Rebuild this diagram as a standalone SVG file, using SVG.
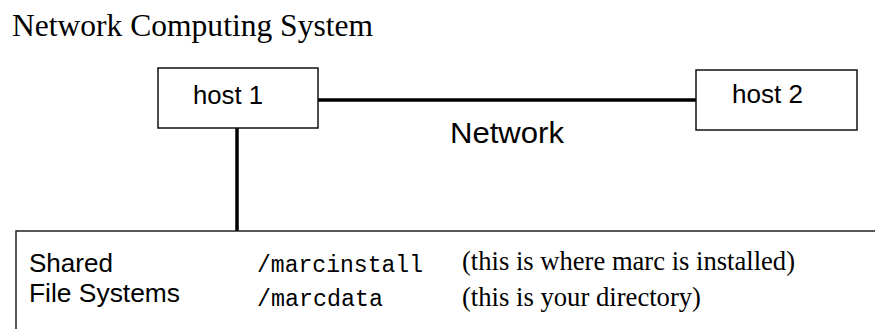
<svg xmlns="http://www.w3.org/2000/svg" width="875" height="329" viewBox="0 0 875 329">
<style>
.box{fill:#fff;stroke:#111;stroke-width:1.5}
.conn{stroke:#000;stroke-width:3.5;fill:none}
.sans{font-family:"Liberation Sans",Arial,sans-serif;fill:#000}
.serif{font-family:"Liberation Serif","Times New Roman",serif;fill:#000}
.mono{font-family:"Liberation Mono","Courier New",monospace;fill:#000}
</style>
<rect width="875" height="329" fill="#fff"/>
<text class="serif" x="12" y="36" font-size="31" textLength="361" lengthAdjust="spacingAndGlyphs">Network Computing System</text>
<g id="connectors">
<line class="conn" x1="316" y1="100" x2="696" y2="100"/>
<line class="conn" x1="237" y1="128" x2="237" y2="231"/>
</g>
<g id="host1">
<rect class="box" x="158" y="68" width="160" height="60"/>
<text class="sans" x="193" y="104" font-size="25.5" textLength="70" lengthAdjust="spacingAndGlyphs">host 1</text>
</g>
<g id="host2">
<rect class="box" x="696" y="70" width="161" height="60"/>
<text class="sans" x="732" y="103" font-size="25.5" textLength="71" lengthAdjust="spacingAndGlyphs">host 2</text>
</g>
<g id="network">
<text class="sans" x="450" y="143" font-size="30" textLength="114" lengthAdjust="spacingAndGlyphs">Network</text>
</g>
<g id="shared-fs">
<path d="M16 329 V231 H875" fill="none" stroke="#222" stroke-width="1.5"/>
<text class="sans" x="29" y="272" font-size="26" textLength="84" lengthAdjust="spacingAndGlyphs">Shared</text>
<text class="sans" x="29" y="302" font-size="26" textLength="151" lengthAdjust="spacingAndGlyphs">File Systems</text>
<text class="mono" x="257" y="272" font-size="23" textLength="166" lengthAdjust="spacingAndGlyphs">/marcinstall</text>
<text class="mono" x="257" y="306" font-size="23" textLength="126" lengthAdjust="spacingAndGlyphs">/marcdata</text>
<text class="serif" x="462" y="270" font-size="26.5" textLength="333" lengthAdjust="spacingAndGlyphs">(this is where marc is installed)</text>
<text class="serif" x="462" y="306" font-size="26.5" textLength="239" lengthAdjust="spacingAndGlyphs">(this is your directory)</text>
</g>
</svg>
